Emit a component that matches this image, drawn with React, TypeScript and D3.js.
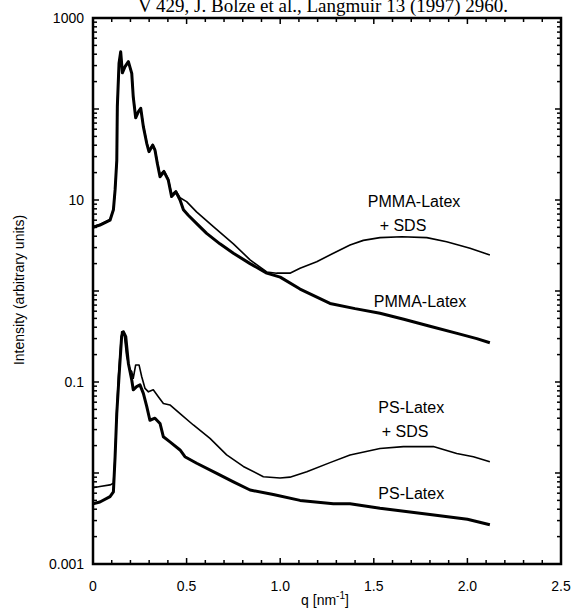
import { useEffect, useRef } from 'react';
import * as d3 from 'd3';

// [q (nm^-1), intensity]
const pmmaLatex: [number, number][] = [
  [0, 5.0], [0.037, 5.3], [0.091, 6.0], [0.109, 7.8], [0.118, 12.9], [0.127, 27], [0.130, 107],
  [0.139, 318], [0.148, 425], [0.157, 250], [0.171, 292], [0.189, 331], [0.207, 246],
  [0.215, 136], [0.228, 80], [0.242, 93], [0.255, 102], [0.269, 64], [0.287, 42], [0.299, 34],
  [0.319, 40], [0.331, 35.4], [0.344, 25], [0.358, 18], [0.379, 20.5], [0.402, 16.6],
  [0.420, 10.9], [0.443, 12.3], [0.465, 10], [0.483, 7.8], [0.509, 6.8], [0.554, 5.5],
  [0.607, 4.3], [0.678, 3.3], [0.750, 2.6], [0.839, 2.0], [0.928, 1.57], [1.0, 1.42],
  [1.106, 1.05], [1.266, 0.73], [1.4, 0.64], [1.533, 0.57], [1.66, 0.49], [1.80, 0.41],
  [1.95, 0.34], [2.05, 0.3], [2.12, 0.27],
];

const pmmaLatexSds: [number, number][] = [
  [0, 5.1], [0.037, 5.4], [0.091, 6.1], [0.109, 7.8], [0.118, 12.9], [0.127, 27], [0.130, 107],
  [0.139, 318], [0.148, 420], [0.157, 255], [0.171, 290], [0.189, 328], [0.207, 246],
  [0.215, 140], [0.228, 82], [0.242, 94], [0.255, 102], [0.269, 66], [0.287, 43], [0.299, 35],
  [0.319, 41], [0.331, 36], [0.344, 26], [0.358, 19], [0.379, 21], [0.402, 17],
  [0.420, 11.5], [0.443, 12.6], [0.465, 10.6], [0.5, 9.6], [0.553, 7.4], [0.643, 5.1],
  [0.75, 3.3], [0.839, 2.2], [0.928, 1.62], [0.981, 1.57], [1.052, 1.57], [1.106, 1.78],
  [1.195, 2.1], [1.284, 2.6], [1.373, 3.2], [1.444, 3.6], [1.533, 3.86], [1.649, 3.95],
  [1.783, 3.86], [1.889, 3.47], [2.014, 2.95], [2.12, 2.49],
];

const psLatex: [number, number][] = [
  [0, 0.0046], [0.037, 0.0048], [0.091, 0.0055], [0.109, 0.0062], [0.118, 0.0151],
  [0.127, 0.045], [0.139, 0.115], [0.153, 0.315], [0.162, 0.357], [0.175, 0.315],
  [0.189, 0.16], [0.207, 0.105], [0.215, 0.082], [0.233, 0.089], [0.251, 0.093],
  [0.269, 0.075], [0.287, 0.054], [0.304, 0.038], [0.331, 0.04], [0.358, 0.035],
  [0.376, 0.025], [0.411, 0.022], [0.465, 0.0179], [0.491, 0.0151], [0.554, 0.0128],
  [0.661, 0.0099], [0.75, 0.008], [0.839, 0.0065], [0.963, 0.0058], [1.106, 0.005],
  [1.284, 0.0046], [1.373, 0.0046], [1.533, 0.0041], [1.80, 0.0035], [2.0, 0.0031], [2.12, 0.0027],
];

const psLatexSds: [number, number][] = [
  [0, 0.0069], [0.037, 0.0071], [0.091, 0.0074], [0.109, 0.0077], [0.118, 0.0151],
  [0.127, 0.05], [0.136, 0.115], [0.153, 0.357], [0.166, 0.345], [0.18, 0.19],
  [0.198, 0.136], [0.207, 0.13], [0.215, 0.11], [0.228, 0.154], [0.246, 0.154],
  [0.26, 0.115], [0.278, 0.085], [0.296, 0.078], [0.322, 0.082], [0.349, 0.069],
  [0.376, 0.058], [0.411, 0.056], [0.465, 0.045], [0.536, 0.0337], [0.625, 0.024],
  [0.714, 0.0158], [0.803, 0.0118], [0.91, 0.0091], [0.999, 0.0088], [1.052, 0.009],
  [1.142, 0.0103], [1.266, 0.013], [1.373, 0.0158], [1.533, 0.0186], [1.658, 0.0195],
  [1.818, 0.0195], [1.943, 0.0164], [2.032, 0.0151], [2.12, 0.0133],
];

const xTickLabels = ['0', '0.5', '1.0', '1.5', '2.0', '2.5'];
const xTickValues = [0, 0.5, 1.0, 1.5, 2.0, 2.5];
const yTickLabels = ['1000', '10', '0.1', '0.001'];
const yTickValues = [1000, 10, 0.1, 0.001];

const curveLabels = [
  { text: 'PMMA-Latex', q: 1.715, v: 8.4 },
  { text: '+ SDS', q: 1.656, v: 4.56 },
  { text: 'PMMA-Latex', q: 1.747, v: 0.667 },
  { text: 'PS-Latex', q: 1.70, v: 0.0457 },
  { text: '+ SDS', q: 1.667, v: 0.0249 },
  { text: 'PS-Latex', q: 1.70, v: 0.0052 },
];

const App = () => {
  const svgRef = useRef<SVGSVGElement>(null);

  useEffect(() => {
    const width = 573;
    const height = 610;
    const margin = { top: 18, right: 12, bottom: 46, left: 93 };
    const sans = 'Liberation Sans, Arial, sans-serif';

    const svg = d3.select(svgRef.current)
      .attr('width', width)
      .attr('height', height);
    svg.selectAll('*').remove();

    const x = d3.scaleLinear()
      .domain([0, 2.5])
      .range([margin.left, width - margin.right]);

    const y = d3.scaleLog()
      .domain([0.001, 1000])
      .range([height - margin.bottom, margin.top]);

    const [x0, x1] = x.range();
    const [y0, y1] = y.range();

    // title, its top is cut off by the page edge as in the scan
    svg.append('text')
      .attr('x', 323)
      .attr('y', 12)
      .attr('text-anchor', 'middle')
      .attr('font-family', 'Liberation Serif, Times New Roman, serif')
      .attr('font-size', 19)
      .text('V 429, J. Bolze et al., Langmuir 13 (1997) 2960.');

    const line = d3.line<[number, number]>()
      .x(d => x(d[0]))
      .y(d => y(d[1]));

    const series = [
      { data: pmmaLatex, w: 3 },
      { data: pmmaLatexSds, w: 1.6 },
      { data: psLatex, w: 3 },
      { data: psLatexSds, w: 1.6 },
    ];

    svg.selectAll('.line')
      .data(series)
      .enter().append('path')
      .attr('class', 'line')
      .attr('fill', 'none')
      .attr('stroke', '#000')
      .attr('stroke-width', d => d.w)
      .attr('stroke-linejoin', 'round')
      .attr('d', d => line(d.data));

    // ticks, inward on all four sides
    const ticks = svg.append('g').attr('stroke', '#000').attr('stroke-width', 1.5);
    d3.range(0, 26).forEach(i => {
      const q = i / 10;
      const len = i % 5 === 0 ? 6 : 4;
      ticks.append('line').attr('x1', x(q)).attr('x2', x(q)).attr('y1', y0).attr('y2', y0 - len);
      ticks.append('line').attr('x1', x(q)).attr('x2', x(q)).attr('y1', y1).attr('y2', y1 + len);
    });
    d3.range(-3, 3).forEach(k => {
      d3.range(1, 10).forEach(m => {
        const v = m * 10 ** k;
        const len = m === 1 ? 6 : 4;
        ticks.append('line').attr('x1', x0).attr('x2', x0 + len).attr('y1', y(v)).attr('y2', y(v));
        ticks.append('line').attr('x1', x1).attr('x2', x1 - len).attr('y1', y(v)).attr('y2', y(v));
      });
    });

    // frame
    svg.append('rect')
      .attr('x', x0)
      .attr('y', y1)
      .attr('width', x1 - x0)
      .attr('height', y0 - y1)
      .attr('fill', 'none')
      .attr('stroke', '#000')
      .attr('stroke-width', 2.5);

    svg.selectAll('.xlab')
      .data(xTickValues)
      .enter().append('text')
      .attr('x', d => x(d))
      .attr('y', y0 + 27)
      .attr('text-anchor', 'middle')
      .attr('font-family', sans)
      .attr('font-size', 14)
      .text((_, i) => xTickLabels[i]);

    svg.selectAll('.ylab')
      .data(yTickValues)
      .enter().append('text')
      .attr('x', x0 - 9)
      .attr('y', d => y(d) + 5)
      .attr('text-anchor', 'end')
      .attr('font-family', sans)
      .attr('font-size', 14)
      .text((_, i) => yTickLabels[i]);

    const xt = svg.append('text')
      .attr('x', 325)
      .attr('y', 605)
      .attr('text-anchor', 'middle')
      .attr('font-family', sans)
      .attr('font-size', 14);
    xt.append('tspan').text('q [nm');
    xt.append('tspan').attr('font-size', 10).attr('dy', -6).text('-1');
    xt.append('tspan').attr('dy', 6).text(']');

    svg.append('text')
      .attr('transform', `translate(24, 290) rotate(-90)`)
      .attr('text-anchor', 'middle')
      .attr('font-family', sans)
      .attr('font-size', 14)
      .text('Intensity (arbitrary units)');

    svg.selectAll('.clab')
      .data(curveLabels)
      .enter().append('text')
      .attr('x', d => x(d.q))
      .attr('y', d => y(d.v))
      .attr('text-anchor', 'middle')
      .attr('font-family', sans)
      .attr('font-size', 16)
      .text(d => d.text);
  }, []);

  return (
    <div style={{ position: 'absolute', left: 0, top: 0 }}>
      <svg ref={svgRef} style={{ display: 'block' }} />
    </div>
  );
};

export default App;
